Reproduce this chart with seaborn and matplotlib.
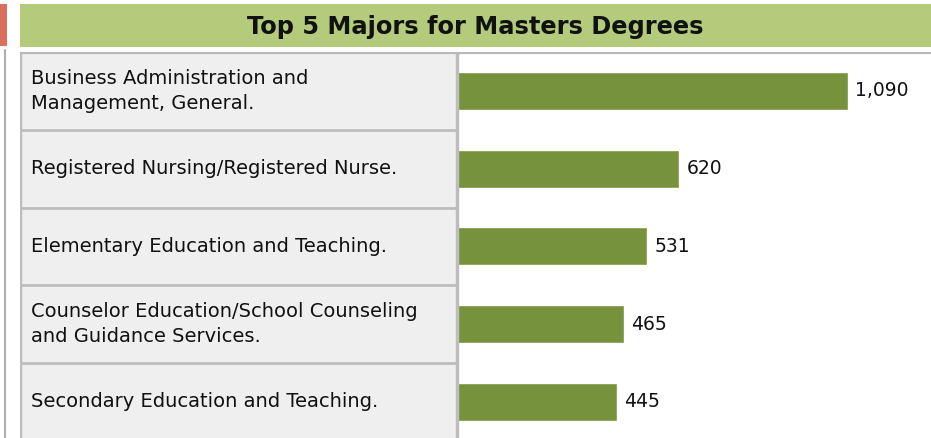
import seaborn as sns
import matplotlib.pyplot as plt
import matplotlib.transforms as mtransforms
from matplotlib.patches import Rectangle
from matplotlib.lines import Line2D
import pandas as pd

majors = [
    "Business Administration and\nManagement, General.",
    "Registered Nursing/Registered Nurse.",
    "Elementary Education and Teaching.",
    "Counselor Education/School Counseling\nand Guidance Services.",
    "Secondary Education and Teaching.",
]
degrees = [1090, 620, 531, 465, 445]
title = "Top 5 Majors for Masters Degrees"

df = pd.DataFrame({"major": majors, "degrees": degrees})

W, H = 931, 438
bar_green = "#77923c"
banner_green = "#b3cb7b"
table_bg = "#efefef"
border = "#bdbdbd"

sns.set_style("white")
plt.rcParams['font.family'] = ['DejaVu Sans']

fig = plt.figure(figsize=(W / 100, H / 100), dpi=100)
fig.patch.set_facecolor("white")

# pixel layout
left_px, zero_px, top_px = 20, 457.3, 52
px_per_unit = (847.7 - 457.3) / 1090
row_px = 77.75

ax = fig.add_axes([left_px / W, 0, (W - left_px) / W, (H - top_px) / H])
sns.barplot(data=df, x="degrees", y="major", orient="h", color=bar_green,
            saturation=1, width=0.49, ax=ax)

xmin = -(zero_px - left_px) / px_per_unit
xmax = (W - zero_px) / px_per_unit
ax.set_xlim(xmin, xmax)
ax.set_ylim(-0.5 + (H - top_px) / row_px, -0.5)

# table on the left
ax.axvspan(xmin, 0, color=table_bg, zorder=0)
n = len(majors)
ax.hlines([i + 0.5 for i in range(n)], xmin, 0, color=border, lw=2, zorder=1)
ax.axvline(0, color=border, lw=2.5, zorder=1)
ax.axvline(xmin, color=border, lw=2.5, zorder=1)
ax.axhline(-0.5, color="#b8b8b8", lw=3, zorder=1)

trans = mtransforms.blended_transform_factory(ax.transAxes, ax.transData)
for i, m in enumerate(majors):
    ax.text(11 / (W - left_px), i, m, transform=trans, ha="left", va="center",
            fontsize=14, color="#111111", linespacing=1.36)

ax.bar_label(ax.containers[0], labels=[f"{v:,}" for v in degrees],
             padding=5, fontsize=13.5, color="#111111")

ax.set_xlabel("")
ax.set_ylabel("")
ax.set_xticks([])
ax.set_yticks([])
for s in ax.spines.values():
    s.set_visible(False)

# banner and side decorations
fig.add_artist(Rectangle((left_px / W, 1 - 47 / H), 1 - left_px / W, 43 / H,
                         transform=fig.transFigure, color=banner_green, lw=0))
fig.add_artist(Rectangle((0, 1 - 46 / H), 7 / W, 42 / H,
                         transform=fig.transFigure, color="#d9705e", lw=0))
fig.add_artist(Line2D([5 / W, 5 / W], [0, 1 - 50 / H], transform=fig.transFigure,
                      color="#b0b0b0", lw=1.5))
fig.text((left_px + W) / 2 / W, 1 - 27 / H, title, ha="center", va="center",
         fontsize=17.4, fontweight="bold", color="#111111")

fig.savefig("out.png", dpi=100, facecolor="white")
